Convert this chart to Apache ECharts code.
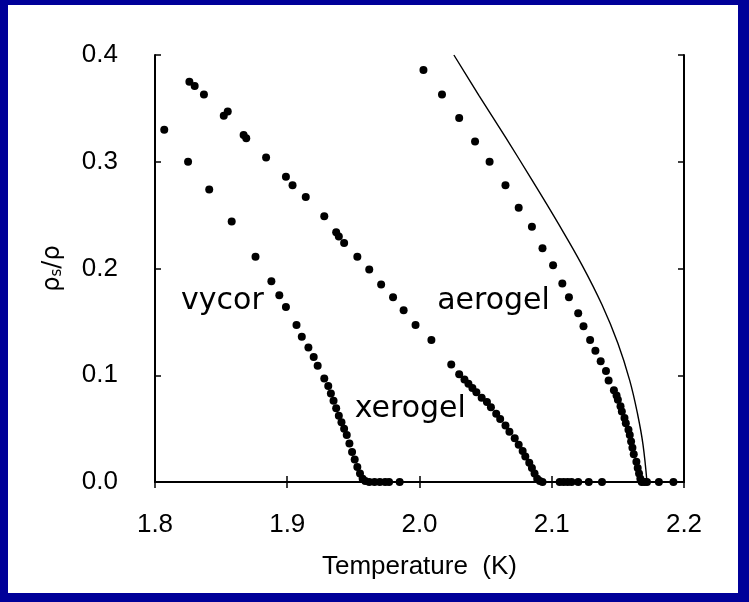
<!DOCTYPE html>
<html>
<head>
<meta charset="utf-8">
<script src="https://cdn.jsdelivr.net/npm/echarts@6/dist/echarts.min.js"></script>
<style>
  html, body { margin: 0; padding: 0; background: #fff; }
  #chart { width: 749px; height: 602px; }
</style>
</head>
<body>
<div id="chart"></div>
<script>
// superfluid fraction rho_s/rho vs temperature (K)
const vycor = [
  [1.807, 0.330], [1.825, 0.300], [1.841, 0.274], [1.858, 0.244], [1.876, 0.211],
  [1.888, 0.188], [1.894, 0.175], [1.899, 0.164], [1.907, 0.147], [1.911, 0.136],
  [1.916, 0.126], [1.920, 0.117], [1.923, 0.109], [1.928, 0.097], [1.931, 0.090],
  [1.933, 0.083], [1.935, 0.076], [1.937, 0.069], [1.939, 0.062], [1.941, 0.056],
  [1.943, 0.050], [1.945, 0.044], [1.947, 0.036], [1.949, 0.028], [1.951, 0.021],
  [1.953, 0.014], [1.955, 0.008], [1.957, 0.003], [1.959, 0.001], [1.962, 0],
  [1.966, 0], [1.970, 0], [1.974, 0], [1.977, 0], [1.985, 0]
];
const xerogel = [
  [1.826, 0.375], [1.830, 0.371], [1.837, 0.363], [1.852, 0.343], [1.855, 0.347],
  [1.867, 0.325], [1.869, 0.322], [1.884, 0.304], [1.899, 0.286], [1.904, 0.278],
  [1.914, 0.267], [1.928, 0.249], [1.937, 0.234], [1.939, 0.230], [1.943, 0.224],
  [1.953, 0.211], [1.962, 0.199], [1.971, 0.185], [1.980, 0.173], [1.988, 0.161],
  [1.997, 0.147], [2.009, 0.133], [2.024, 0.110], [2.030, 0.101], [2.034, 0.096],
  [2.037, 0.092], [2.040, 0.088], [2.043, 0.084], [2.047, 0.079], [2.051, 0.075],
  [2.054, 0.070], [2.058, 0.064], [2.061, 0.059], [2.065, 0.053], [2.068, 0.047],
  [2.072, 0.041], [2.075, 0.035], [2.078, 0.029], [2.080, 0.024], [2.083, 0.018],
  [2.085, 0.013], [2.087, 0.008], [2.089, 0.003], [2.091, 0.001], [2.093, 0],
  [2.106, 0], [2.109, 0], [2.112, 0], [2.115, 0], [2.120, 0], [2.128, 0], [2.138, 0]
];
const aerogel = [
  [2.003, 0.386], [2.017, 0.363], [2.030, 0.341], [2.042, 0.319], [2.053, 0.300],
  [2.065, 0.278], [2.075, 0.257], [2.085, 0.239], [2.093, 0.219], [2.101, 0.203],
  [2.108, 0.186], [2.113, 0.173], [2.120, 0.158], [2.124, 0.146], [2.129, 0.133],
  [2.133, 0.123], [2.137, 0.113], [2.141, 0.104], [2.143, 0.095], [2.147, 0.086],
  [2.149, 0.081], [2.150, 0.077], [2.152, 0.071], [2.153, 0.066], [2.155, 0.060],
  [2.156, 0.055], [2.158, 0.049], [2.159, 0.044], [2.160, 0.038], [2.161, 0.032],
  [2.162, 0.026], [2.164, 0.019], [2.165, 0.013], [2.166, 0.008], [2.167, 0.003],
  [2.168, 0], [2.170, 0], [2.172, 0], [2.181, 0], [2.192, 0]
];
// bulk helium curve (solid line)
const bulk = [
  [2.026, 0.400], [2.045, 0.362], [2.065, 0.323], [2.085, 0.283], [2.105, 0.242],
  [2.123, 0.203], [2.138, 0.166], [2.150, 0.130], [2.159, 0.095], [2.165, 0.063],
  [2.169, 0.035], [2.172, 0.000]
];
const sampleLabels = [
  { name: "vycor", value: [1.851, 0.169] },
  { name: "aerogel", value: [2.056, 0.169] },
  { name: "xerogel", value: [1.993, 0.068] }
];
const xRange = [1.8, 2.2];
const yRange = [0, 0.4];

const chart = echarts.init(document.getElementById("chart"));
const tickFont = { fontFamily: "Liberation Sans", fontSize: 26, color: "#000" };
const lineStyle = { color: "#000", width: 2 };
const tickStyle = { inside: true, length: 6, lineStyle: { color: "#000", width: 1.5 } };

const dots = (data) => ({
  type: "scatter",
  data: data,
  symbolSize: 8,
  itemStyle: { color: "#000", opacity: 1 },
  z: 3
});

chart.setOption({
  backgroundColor: "#fff",
  animation: false,
  graphic: [
    { type: "rect", left: 0, top: 0, shape: { width: 749, height: 5 }, style: { fill: "#000099" } },
    { type: "rect", left: 0, top: 0, shape: { width: 8, height: 602 }, style: { fill: "#000099" } },
    { type: "rect", right: 0, top: 0, shape: { width: 11, height: 602 }, style: { fill: "#000099" } },
    { type: "rect", left: 0, bottom: 0, shape: { width: 749, height: 9 }, style: { fill: "#000099" } }
  ],
  grid: { left: 155, right: 65, top: 55, bottom: 120 },
  xAxis: [
    {
      type: "value", position: "bottom", min: xRange[0], max: xRange[1], interval: 0.1,
      name: "Temperature  (K)", nameLocation: "middle", nameGap: 72,
      nameTextStyle: { fontFamily: "Liberation Sans", fontSize: 26, color: "#000" },
      axisLine: { lineStyle: lineStyle },
      axisTick: tickStyle,
      axisLabel: Object.assign({ margin: 30, formatter: (v) => v.toFixed(1) }, tickFont),
      splitLine: { show: false }
    },
    {
      type: "value", position: "top", min: xRange[0], max: xRange[1], interval: 0.1,
      axisLine: { lineStyle: lineStyle },
      axisTick: tickStyle,
      axisLabel: { show: false },
      splitLine: { show: false }
    }
  ],
  yAxis: [
    {
      type: "value", position: "left", min: yRange[0], max: yRange[1], interval: 0.1,
      name: "{r|ρ}{s|s}{r|/ρ}", nameLocation: "middle", nameGap: 90, nameRotate: 90,
      nameTextStyle: {
        rich: {
          r: { fontFamily: "DejaVu Sans", fontSize: 24, color: "#000" },
          s: { fontFamily: "DejaVu Sans", fontSize: 15, color: "#000", verticalAlign: "bottom", padding: [10, 0, 0, 0] }
        }
      },
      axisLine: { lineStyle: lineStyle },
      axisTick: tickStyle,
      axisLabel: Object.assign({ margin: 37, formatter: (v) => v.toFixed(1) }, tickFont),
      splitLine: { show: false }
    },
    {
      type: "value", position: "right", min: yRange[0], max: yRange[1], interval: 0.1,
      axisLine: { lineStyle: lineStyle },
      axisTick: tickStyle,
      axisLabel: { show: false },
      splitLine: { show: false }
    }
  ],
  series: [
    dots(vycor),
    dots(xerogel),
    dots(aerogel),
    {
      type: "line",
      data: bulk,
      smooth: 0.4,
      showSymbol: false,
      lineStyle: { color: "#000", width: 1.4 },
      z: 2
    },
    {
      type: "scatter",
      data: sampleLabels,
      symbolSize: 1,
      itemStyle: { color: "#fff", opacity: 0 },
      label: {
        show: true, position: "inside", formatter: "{b}",
        fontFamily: "DejaVu Sans", fontSize: 30, color: "#000", opacity: 1
      },
      z: 4
    }
  ]
});
</script>
</body>
</html>
